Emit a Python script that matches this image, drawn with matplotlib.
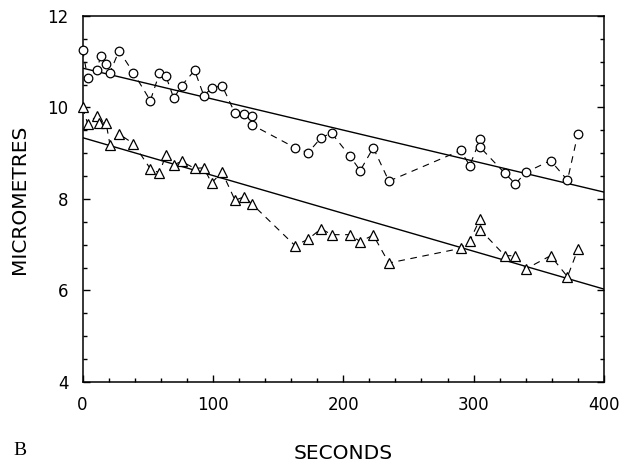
import matplotlib
matplotlib.use("Agg")
import matplotlib.pyplot as plt
from matplotlib.ticker import MultipleLocator

# upper trace (circles)
circle_t = [0, 4, 11, 14, 18, 21, 28, 39, 52, 59, 64, 70, 76, 86, 93, 99, 107,
            117, 124, 130, 130, 163, 173, 183, 191, 205, 213, 223, 235,
            290, 297, 305, 305, 324, 332, 340, 359, 372, 380]
circle_um = [11.26, 10.64, 10.82, 11.13, 10.94, 10.76, 11.24, 10.76, 10.15, 10.75,
             10.68, 10.20, 10.48, 10.81, 10.26, 10.42, 10.48, 9.87, 9.85, 9.82,
             9.62, 9.12, 9.01, 9.34, 9.44, 8.94, 8.62, 9.12, 8.39, 9.06, 8.73,
             9.30, 9.13, 8.56, 8.33, 8.58, 8.84, 8.41, 9.43]

# lower trace (triangles)
tri_t = [0, 4, 11, 13, 18, 21, 28, 39, 52, 59, 64, 70, 76, 86, 93, 99, 107,
         117, 124, 130, 163, 173, 183, 191, 205, 213, 223, 235,
         290, 297, 305, 305, 324, 332, 340, 359, 372, 380]
tri_um = [10.0, 9.64, 9.82, 9.65, 9.67, 9.19, 9.42, 9.21, 8.66, 8.57, 8.97, 8.75,
          8.82, 8.67, 8.68, 8.35, 8.59, 7.97, 8.05, 7.89, 6.98, 7.12, 7.35, 7.22,
          7.22, 7.07, 7.21, 6.60, 6.92, 7.08, 7.57, 7.33, 6.76, 6.76, 6.47, 6.76,
          6.30, 6.90]

# fitted lines, end points
fit_t = [0, 400]
fit_upper = [10.86, 8.15]
fit_lower = [9.34, 6.03]

xticks = [0, 100, 200, 300, 400]
yticks = [4, 6, 8, 10, 12]

plt.rcParams['font.family'] = ['DejaVu Sans']

fig = plt.figure(figsize=(6.23, 4.63), dpi=100)
ax = fig.add_axes([0.1325, 0.175, 0.837, 0.7905])

# regression lines
ax.plot(fit_t, fit_upper, color='black', lw=1.0)
ax.plot(fit_t, fit_lower, color='black', lw=1.0)

# measured points joined by dashes
ax.plot(circle_t, circle_um, linestyle='--', dashes=(6, 5), color='black', lw=0.8,
        marker='o', ms=6.2, mfc='white', mec='black', mew=0.9, clip_on=False, zorder=3)
ax.plot(tri_t, tri_um, linestyle='--', dashes=(6, 5), color='black', lw=0.8,
        marker='^', ms=7, mfc='white', mec='black', mew=0.9, clip_on=False, zorder=3)

ax.set_xlim(0, 400)
ax.set_ylim(4, 12)
ax.set_xticks(xticks)
ax.set_yticks(yticks)
ax.xaxis.set_minor_locator(MultipleLocator(20))
ax.yaxis.set_minor_locator(MultipleLocator(0.5))
ax.tick_params(which='both', direction='in', left=True, right=True, bottom=True, top=False,
               labelsize=12, pad=10)
ax.tick_params(which='major', length=5, width=1)
ax.tick_params(which='minor', length=3, width=1)
for s in ax.spines.values():
    s.set_linewidth(1.1)

ax.set_xlabel('SECONDS', fontsize=14.5)
ax.xaxis.set_label_coords(0.5, -0.17)
ax.xaxis.label.set_va('top')
ax.set_ylabel('MICROMETRES', fontsize=14.5)
ax.yaxis.set_label_coords(-0.121, 0.5)
ax.yaxis.label.set_va('center')

fig.text(0.022, 0.008, 'B', fontsize=14, family='Liberation Serif', va='bottom')

fig.savefig('out.png', dpi=100)
